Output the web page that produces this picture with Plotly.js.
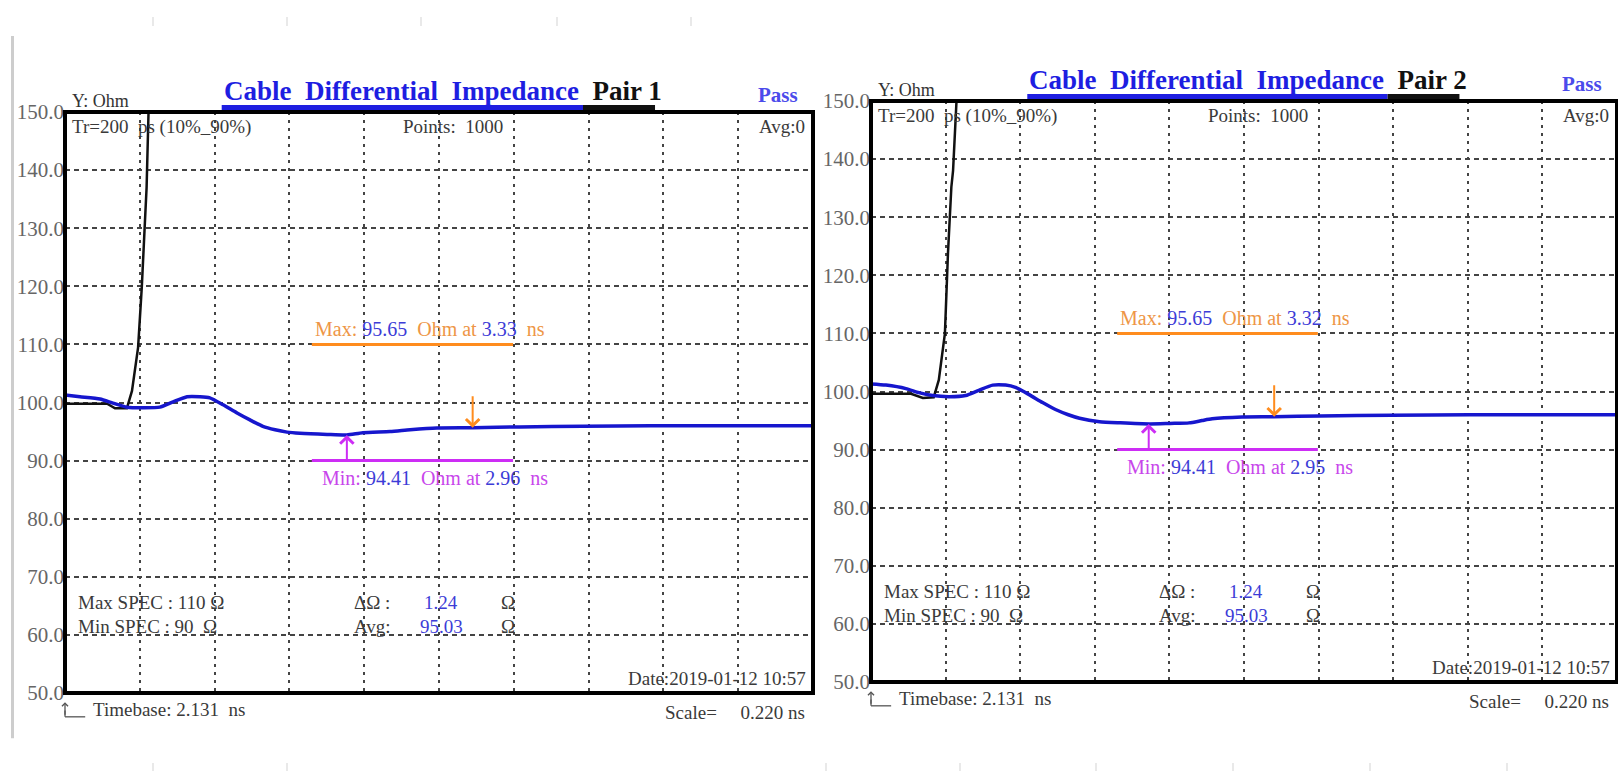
<!DOCTYPE html>
<html><head><meta charset="utf-8">
<script src="https://cdn.plot.ly/plotly-3.0.1.min.js"></script>
<style>html,body{margin:0;padding:0;background:#fff;}#chart{width:1618px;height:777px;}</style>
</head><body><div id="chart"></div>
<script>
// ---------------- data ----------------
const pairNames = ['Pair 1', 'Pair 2'];
const timebase = 2.131;        // ns at left edge
const scalePerDiv = 0.220;     // ns / division
const divisions = 10;
const yMin = 50, yMax = 150, yStep = 10;

const pair1Time = [2.131,2.175,2.234,2.272,2.313,2.360,2.410,2.449,2.490,2.528,2.557,2.596,2.637,2.675,2.713,2.749,2.784,2.822,2.902,2.960,3.007,3.087,3.146,3.225,3.331,3.469,3.654,3.852,4.331];
const pair1Ohm  = [101.3,101.0,100.6,99.9,99.2,99.1,99.2,100.1,101.0,101.0,100.8,99.6,98.2,97.0,95.9,95.3,94.9,94.7,94.5,94.41,94.8,95.0,95.3,95.6,95.65,95.8,95.9,96.0,96.0];
const pair1StepTime = [2.131,2.255,2.278,2.313,2.328,2.346,2.357,2.362,2.366,2.371,2.375,2.378];
const pair1StepOhm  = [99.8,99.8,99.0,99.0,102,109.5,120,125,131,137,150,153];

const pair2Time = [2.131,2.175,2.234,2.272,2.313,2.360,2.410,2.449,2.490,2.528,2.557,2.596,2.637,2.675,2.713,2.746,2.805,2.866,2.952,3.013,3.069,3.107,3.137,3.225,3.319,3.455,3.666,3.896,4.331];
const pair2Ohm  = [101.3,101.1,100.5,99.8,99.3,99.1,99.3,100.2,101.1,101.1,100.7,99.5,98.1,96.9,96.0,95.4,94.8,94.6,94.41,94.5,94.6,95.0,95.3,95.6,95.65,95.8,95.9,96.0,96.0];
const pair2StepTime = [2.131,2.249,2.284,2.316,2.331,2.349,2.358,2.368,2.373,2.381,2.384];
const pair2StepOhm  = [99.6,99.6,98.9,99.0,102,110,123.8,135.2,138,148.5,151];

const maxValues = [95.65, 95.65];
const maxTimes  = ['3.33', '3.32'];
const minValues = [94.41, 94.41];
const minTimes  = ['2.96', '2.95'];
const deltaValues = ['1.24', '1.24'];
const avgValues   = ['95.03', '95.03'];
const maxSpec = 110, minSpec = 90;
const riseTime = 'Tr=200\u00a0\u00a0ps (10%_90%)';
const pointsText = 'Points:\u00a0\u00a01000';
const dateText = 'Date:2019-01-12 10:57';

// ---------------- style ----------------
const SERIF = '"Liberation Serif", "Times New Roman", serif';
const TXT = '#3a3a3a';
const TITLE_BLUE = 'rgb(30,30,225)';
const NUM_BLUE = 'rgb(60,60,215)';
const TRACE_BLUE = 'rgb(22,22,205)';
const ORANGE_LINE = 'rgb(255,140,30)';
const ORANGE_TXT = 'rgb(238,150,70)';
const MAG_LINE = 'rgb(205,45,245)';
const MAG_TXT = 'rgb(200,70,235)';

const times = [pair1Time, pair2Time];
const ohms = [pair1Ohm, pair2Ohm];
const stepT = [pair1StepTime, pair2StepTime];
const stepV = [pair1StepOhm, pair2StepOhm];

const traces = [];
for (let i = 0; i < 2; i++) {
  const s = i === 0 ? '' : '2';
  traces.push({x: stepT[i], y: stepV[i], xaxis: 'x' + s, yaxis: 'y' + s, mode: 'lines',
    line: {color: '#111', width: 2.5}, hoverinfo: 'skip'});
  traces.push({x: times[i], y: ohms[i], xaxis: 'x' + s, yaxis: 'y' + s, mode: 'lines',
    line: {color: TRACE_BLUE, width: 3.5, shape: 'spline', smoothing: 0.6}, hoverinfo: 'skip'});
}

function xAxis(domain) {
  return {domain, range: [timebase, timebase + scalePerDiv * divisions], tickmode: 'linear',
    tick0: timebase, dtick: scalePerDiv, showticklabels: false, ticks: '', showline: false,
    zeroline: false, showgrid: true, gridcolor: '#444', gridwidth: 2, griddash: '3px,5px', fixedrange: true};
}
function yAxis(domain, anchor) {
  return {domain, anchor, range: [yMin, yMax], tickmode: 'linear', tick0: yMin, dtick: yStep,
    tickformat: '.1f', ticks: '', showline: false, zeroline: false, showgrid: true,
    gridcolor: '#444', gridwidth: 2, griddash: '5px,4px',
    tickfont: {family: SERIF, size: 21, color: '#666'}, ticklabelstandoff: 0, fixedrange: true};
}

const annotations = [];
const shapes = [];

for (let i = 0; i < 2; i++) {
  const s = i === 0 ? '' : '2';
  const xd = 'x' + s + ' domain', yd = 'y' + s + ' domain';
  const xr = 'x' + s, yr = 'y' + s;
  const A = (text, x, y, xanchor, size, color) => annotations.push({text, xref: xd, yref: yd, x, y,
    xanchor, yanchor: 'middle', showarrow: false, font: {family: SERIF, size, color}});

  A('Y: Ohm', 0.0067, 1.019, 'left', 18, '#333');
  A('<b><span style="color:' + TITLE_BLUE + '">Cable\u00a0\u00a0Differential\u00a0\u00a0Impedance</span>\u00a0\u00a0<span style="color:#111">' + pairNames[i] + '</span></b>',
    0.2095, 1.036, 'left', 27, TITLE_BLUE);
  A('<b>Pass</b>', 0.924, 1.030, 'left', 21, 'rgb(75,75,235)');
  A(riseTime, 0.0067, 0.975, 'left', 19, TXT);
  A(pointsText, 0.588, 0.975, 'right', 19, TXT);
  A('Avg:0', 0.992, 0.975, 'right', 19, TXT);
  A('Max SPEC : ' + maxSpec + ' \u03a9', 0.0147, 0.155, 'left', 19, TXT);
  A('Min SPEC : ' + minSpec + '\u00a0\u00a0\u03a9', 0.0147, 0.115, 'left', 19, TXT);
  A('\u0394\u03a9 :', 0.3837, 0.155, 'left', 19, TXT);
  A('Avg:', 0.3837, 0.115, 'left', 19, TXT);
  A(deltaValues[i], 0.477, 0.155, 'left', 19, NUM_BLUE);
  A(avgValues[i], 0.472, 0.115, 'left', 19, NUM_BLUE);
  A('\u03a9', 0.58, 0.155, 'left', 19, TXT);
  A('\u03a9', 0.58, 0.115, 'left', 19, TXT);
  A(dateText, 0.993, 0.025, 'right', 19, TXT);
  A('Timebase: ' + timebase.toFixed(3) + '\u00a0\u00a0ns', 0.035, -0.028, 'left', 19, TXT);
  A('Scale=\u00a0\u00a0\u00a0\u00a0\u00a0' + scalePerDiv.toFixed(3) + ' ns', 0.7995, -0.033, 'left', 19, TXT);

  A('<span style="color:' + ORANGE_TXT + '">Max:</span> <span style="color:' + NUM_BLUE + '">' + maxValues[i].toFixed(2) +
    '</span>\u00a0\u00a0<span style="color:' + ORANGE_TXT + '">Ohm at</span> <span style="color:' + NUM_BLUE + '">' + maxTimes[i] +
    '</span>\u00a0\u00a0<span style="color:' + ORANGE_TXT + '">ns</span>', 0.3316, 0.6265, 'left', 20, ORANGE_TXT);
  A('<span style="color:' + MAG_TXT + '">Min:</span> <span style="color:' + NUM_BLUE + '">' + minValues[i].toFixed(2) +
    '</span>\u00a0\u00a0<span style="color:' + MAG_TXT + '">Ohm at</span> <span style="color:' + NUM_BLUE + '">' + minTimes[i] +
    '</span>\u00a0\u00a0<span style="color:' + MAG_TXT + '">ns</span>', 0.341, 0.370, 'left', 20, MAG_TXT);

  // arrows to max / min points
  annotations.push({xref: xr, yref: yr, x: parseFloat(maxTimes[i]), y: maxValues[i], ax: 0, ay: -33, text: '',
    showarrow: true, arrowhead: 4, arrowsize: 1.3, arrowwidth: 2, arrowcolor: ORANGE_LINE, standoff: 0});
  annotations.push({xref: xr, yref: yr, x: parseFloat(minTimes[i]), y: minValues[i], ax: 0, ay: 26, text: '',
    showarrow: true, arrowhead: 4, arrowsize: 1.3, arrowwidth: 2, arrowcolor: MAG_LINE, standoff: 0});
  // timebase marker arrow
  annotations.push({xref: xd, yref: yd, x: 0.0, y: -0.016, ax: 0, ay: 14, text: '',
    showarrow: true, arrowhead: 4, arrowsize: 0.9, arrowwidth: 1.3, arrowcolor: '#555', standoff: 0});

  // spec marker lines
  shapes.push({type: 'line', xref: xd, yref: yr, x0: 0.330, x1: 0.599, y0: maxSpec, y1: maxSpec,
    line: {color: ORANGE_LINE, width: 3}});
  shapes.push({type: 'line', xref: xd, yref: yr, x0: 0.330, x1: 0.599, y0: minSpec, y1: minSpec,
    line: {color: MAG_LINE, width: 3}});
  // title underlines
  shapes.push({type: 'line', xref: xd, yref: yd, x0: 0.2095, x1: 0.6925, y0: 1.0077, y1: 1.0077,
    line: {color: TITLE_BLUE, width: 5}});
  shapes.push({type: 'line', xref: xd, yref: yd, x0: 0.6925, x1: 0.7888, y0: 1.0077, y1: 1.0077,
    line: {color: '#111', width: 5}});
  // plot frame
  shapes.push({type: 'rect', xref: xd, yref: yd, x0: 0, x1: 1, y0: 0, y1: 1,
    line: {color: '#000', width: 4}});
  // timebase marker foot
  shapes.push({type: 'line', xref: xd, yref: yd, x0: 0.0, x1: 0.0, y0: -0.030, y1: -0.041, line: {color: '#555', width: 1.3}});
  shapes.push({type: 'line', xref: xd, yref: yd, x0: 0.0, x1: 0.027, y0: -0.041, y1: -0.041, line: {color: '#555', width: 1.3}});
}

// page ruler decorations
shapes.push({type: 'line', xref: 'paper', yref: 'paper', x0: 12.5 / 1618, x1: 12.5 / 1618, y0: 0.05, y1: 1 - 36 / 777,
  line: {color: '#cdcdcd', width: 3}});
[153, 287, 421, 557, 691].forEach(px => shapes.push({type: 'line', xref: 'paper', yref: 'paper',
  x0: px / 1618, x1: px / 1618, y0: 1 - 17 / 777, y1: 1 - 26 / 777, line: {color: '#e2e2e2', width: 1.5}}));
[153, 287, 826, 960, 1096, 1233, 1370, 1507].forEach(px => shapes.push({type: 'line', xref: 'paper', yref: 'paper',
  x0: px / 1618, x1: px / 1618, y0: 1 - 763 / 777, y1: 1 - 771 / 777, line: {color: '#e2e2e2', width: 1.5}}));

const layout = {
  width: 1618, height: 777, margin: {l: 0, r: 0, t: 0, b: 0},
  paper_bgcolor: '#fff', plot_bgcolor: '#fff', showlegend: false,
  xaxis: xAxis([65 / 1618, 813 / 1618]),
  yaxis: yAxis([84 / 777, 665 / 777], 'x'),
  xaxis2: xAxis([871 / 1618, 1617 / 1618]),
  yaxis2: yAxis([95 / 777, 676 / 777], 'x2'),
  annotations, shapes, hovermode: false
};
layout.xaxis.anchor = 'y';
layout.xaxis2.anchor = 'y2';

Plotly.newPlot('chart', traces, layout, {staticPlot: true, displayModeBar: false});
</script>
</body></html>
